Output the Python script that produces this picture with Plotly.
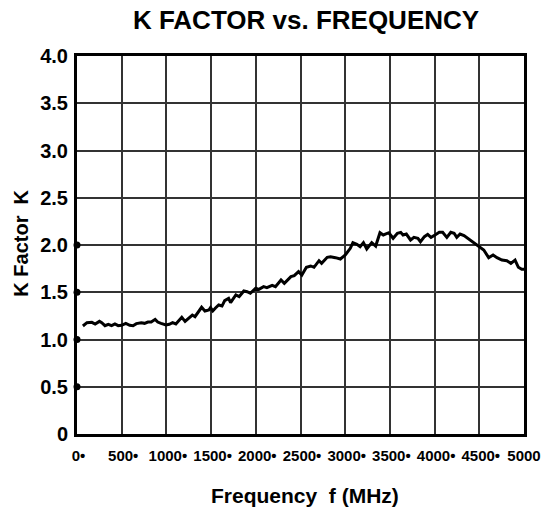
import plotly.graph_objects as go

# ---- data ----
freq_mhz = [66, 111, 166, 203, 251, 277, 313, 350, 387, 424, 461, 498, 546, 590, 627, 664,
            719, 756, 793, 830, 874, 903, 940, 966, 995, 1032, 1069, 1106, 1143, 1172, 1209,
            1254, 1290, 1320, 1364, 1394, 1431, 1456, 1475, 1493, 1519, 1549, 1585, 1622,
            1652, 1696, 1718, 1777, 1814, 1866, 1903, 1939, 1999, 2035, 2087, 2124, 2183,
            2220, 2282, 2319, 2393, 2430, 2478, 2515, 2566, 2614, 2651, 2707, 2736, 2799,
            2836, 2891, 2946, 3001, 3057, 3086, 3131, 3167, 3204, 3241, 3297, 3341, 3389,
            3426, 3488, 3536, 3584, 3621, 3647, 3684, 3731, 3769, 3813, 3842, 3886, 3923,
            3960, 4005, 4052, 4090, 4137, 4181, 4218, 4248, 4285, 4329, 4403, 4477, 4550,
            4605, 4654, 4698, 4753, 4808, 4853, 4900, 4937, 4975, 5000]
k_factor = [1.143, 1.178, 1.182, 1.164, 1.192, 1.178, 1.146, 1.161, 1.146, 1.164, 1.146,
            1.150, 1.171, 1.150, 1.146, 1.168, 1.178, 1.171, 1.185, 1.185, 1.213, 1.185,
            1.171, 1.161, 1.153, 1.161, 1.178, 1.164, 1.199, 1.235, 1.192, 1.228, 1.259,
            1.241, 1.302, 1.341, 1.302, 1.305, 1.312, 1.337, 1.302, 1.333, 1.365, 1.354,
            1.411, 1.436, 1.390, 1.471, 1.453, 1.513, 1.506, 1.489, 1.542, 1.531, 1.559,
            1.548, 1.573, 1.559, 1.630, 1.594, 1.665, 1.675, 1.718, 1.683, 1.764, 1.778,
            1.764, 1.834, 1.806, 1.870, 1.876, 1.866, 1.852, 1.894, 1.965, 2.025, 2.007,
            1.982, 2.025, 1.958, 2.025, 1.989, 2.130, 2.106, 2.130, 2.071, 2.124, 2.134,
            2.106, 2.116, 2.053, 2.081, 2.071, 2.035, 2.088, 2.113, 2.081, 2.106, 2.134,
            2.134, 2.081, 2.134, 2.124, 2.081, 2.116, 2.099, 2.046, 1.993, 1.947, 1.866,
            1.894, 1.866, 1.841, 1.834, 1.806, 1.841, 1.764, 1.743, 1.743]

x_tick_vals = [0, 500, 1000, 1500, 2000, 2500, 3000, 3500, 4000, 4500, 5000]
x_tick_text = ["\u20090•", "\u2009500•", "\u20091000•", "\u20091500•", "\u20092000•",
               "\u20092500•", "\u20093000•", "\u20093500•", "\u20094000•", "\u20094500•", "5000"]
y_tick_vals = [0, 0.5, 1.0, 1.5, 2.0, 2.5, 3.0, 3.5, 4.0]
y_tick_text = ["0", "0.5", "1.0", "1.5", "2.0", "2.5", "3.0", "3.5", "4.0"]
y_dot_vals = [0.5, 1.0, 1.5, 2.0]

FONT = "Liberation Sans, Arial, Helvetica, sans-serif"

fig = go.Figure()
fig.add_trace(go.Scatter(x=freq_mhz, y=k_factor, mode="lines",
                         line=dict(color="black", width=3), showlegend=False,
                         hoverinfo="skip"))
fig.add_trace(go.Scatter(x=[0] * len(y_dot_vals), y=y_dot_vals, mode="markers",
                         marker=dict(color="black", size=7), cliponaxis=False,
                         showlegend=False, hoverinfo="skip"))

fig.update_layout(
    width=553, height=512,
    margin=dict(l=77, r=24, t=56, b=78),
    paper_bgcolor="white", plot_bgcolor="white",
    title=dict(text="K FACTOR vs. FREQUENCY", x=306 / 553, xanchor="center",
               xref="container", y=1 - 20 / 512, yanchor="middle", yref="container",
               font=dict(family=FONT, size=26, color="black", weight="bold")),
    xaxis=dict(range=[0, 5000], tickmode="array", tickvals=x_tick_vals, ticktext=x_tick_text,
               showgrid=True, gridcolor="#333333", gridwidth=1.5, zeroline=False,
               showline=True, linecolor="black", linewidth=3, mirror=True,
               ticks="", ticklabelstandoff=6, tickangle=0,
               tickfont=dict(family=FONT, size=15, color="black", weight="bold")),
    yaxis=dict(range=[0, 4], tickmode="array", tickvals=y_tick_vals, ticktext=y_tick_text,
               showgrid=True, gridcolor="#333333", gridwidth=1.5, zeroline=False,
               showline=True, linecolor="black", linewidth=3, mirror=True,
               ticks="", ticklabelstandoff=2,
               tickfont=dict(family=FONT, size=20, color="black", weight="bold")),
    annotations=[
        dict(text="Frequency  f (MHz)", xref="paper", yref="paper",
             x=(308 - 77) / 452, y=(434 - 495) / 378, xanchor="center", yanchor="middle",
             showarrow=False, font=dict(family=FONT, size=21, color="black", weight="bold")),
        dict(text="K Factor  K", xref="paper", yref="paper", textangle=-90,
             x=(20 - 77) / 452, y=(434 - 243) / 378, xanchor="center", yanchor="middle",
             showarrow=False, font=dict(family=FONT, size=20, color="black", weight="bold")),
    ],
)

fig.write_html("out.html")
